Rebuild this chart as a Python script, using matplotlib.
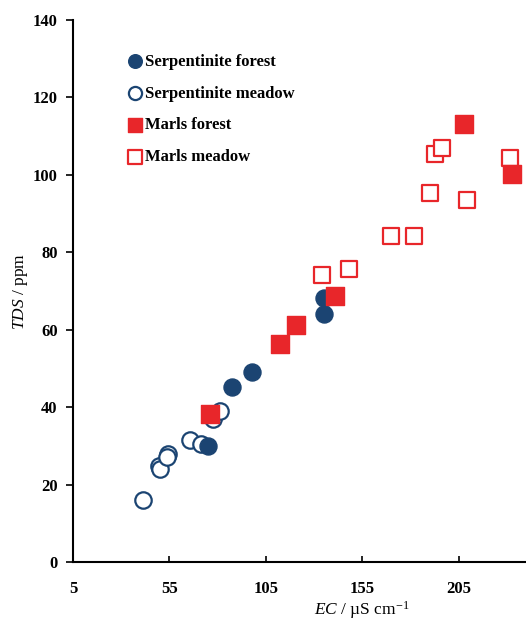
import matplotlib
matplotlib.use("Agg")
import matplotlib.pyplot as plt

plt.rcParams['font.family'] = ['Liberation Serif', 'DejaVu Serif']
plt.rcParams['mathtext.fontset'] = 'custom'
plt.rcParams['mathtext.rm'] = 'Liberation Serif'
plt.rcParams['mathtext.it'] = 'Liberation Serif:italic'

# Data
serp_forest_ec = [135.3, 135.3, 98.0, 87.6, 75.1]
serp_forest_tds = [68.3, 64.1, 49.1, 45.3, 30.0]

serp_meadow_ec = [41.3, 49.6, 50.0, 54.3, 54.0, 65.7, 71.5, 77.7, 81.3]
serp_meadow_tds = [16.0, 24.9, 24.0, 28.0, 27.1, 31.6, 30.5, 37.0, 39.1]

marls_forest_ec = [76.1, 112.5, 120.8, 141.0, 207.7, 232.8]
marls_forest_tds = [38.3, 56.3, 61.3, 68.6, 113.2, 100.1]

marls_meadow_ec = [134.4, 148.0, 170.0, 181.7, 190.0, 192.8, 196.6, 209.6, 231.9]
marls_meadow_tds = [74.2, 75.7, 84.1, 84.1, 95.3, 105.4, 107.0, 93.6, 104.3]

x_ticks = [5, 55, 105, 155, 205]
y_ticks = [0, 20, 40, 60, 80, 100, 120, 140]

navy = '#1b4472'
red = '#e8262a'

fig = plt.figure(figsize=(5.26, 6.23), dpi=100)
ax = fig.add_axes([73/526, 61/623, 1 - 73/526, (562-20)/623])

ax.scatter(serp_forest_ec, serp_forest_tds, s=150, marker='o', color=navy,
           label='Serpentinite forest', zorder=3)
ax.scatter(serp_meadow_ec, serp_meadow_tds, s=140, marker='o', facecolors='white',
           edgecolors=navy, linewidths=1.6, label='Serpentinite meadow', zorder=2)
ax.scatter(marls_forest_ec, marls_forest_tds, s=150, marker='s', color=red,
           label='Marls forest', zorder=3)
ax.scatter(marls_meadow_ec, marls_meadow_tds, s=140, marker='s', facecolors='white',
           edgecolors=red, linewidths=1.6, label='Marls meadow', zorder=2)

ax.set_xlim(5, 240)
ax.set_ylim(0, 140)
ax.set_xticks(x_ticks)
ax.set_yticks(y_ticks)
for lab in ax.get_xticklabels() + ax.get_yticklabels():
    lab.set_fontweight('bold')
    lab.set_fontsize(12)
ax.tick_params(axis='y', direction='out', length=5, width=1.2, pad=6)
ax.tick_params(axis='x', direction='in', length=4, width=1.2, pad=14)

for s in ['top', 'right']:
    ax.spines[s].set_visible(False)
for s in ['left', 'bottom']:
    ax.spines[s].set_linewidth(1.5)

ax.set_ylabel(r'$\mathit{TDS}$ / ppm', fontsize=12.5)
ax.yaxis.set_label_coords(-0.095, 0.5)
ax.set_xlabel(r'$\mathit{EC}$ / µS cm$^{-1}$', fontsize=12.5)
ax.xaxis.set_label_coords((362-73)/(526-73), -0.068)

leg = ax.legend(loc='upper left', bbox_to_anchor=((117-73)/(526-73), 1 - (47-20)/542),
                frameon=False, prop={'weight': 'bold', 'size': 12},
                handletextpad=0.0, labelspacing=0.95, handlelength=1.3,
                borderaxespad=0, markerscale=0.8)

fig.savefig('out.png', dpi=100)
